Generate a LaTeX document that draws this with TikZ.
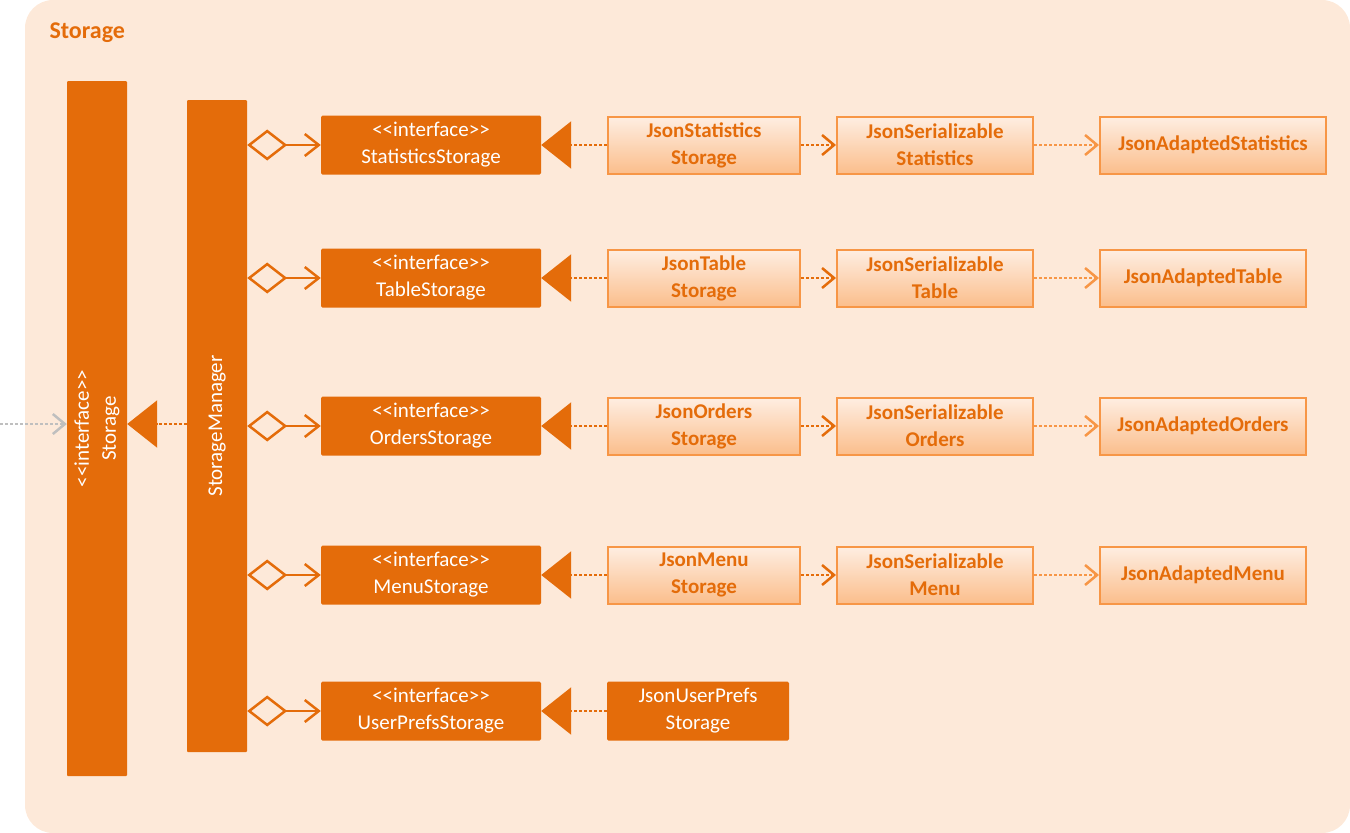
\documentclass[tikz,border=0pt]{standalone}
\usepackage{fontspec}
\setmainfont{Carlito}
\usetikzlibrary{positioning, arrows.meta}
\definecolor{bgpeach}{HTML}{FDE9D9}
\definecolor{darkorange}{HTML}{E46C0A}
\definecolor{lightorange}{HTML}{F79646}
\definecolor{gradtop}{HTML}{FEEEE2}
\definecolor{gradbot}{HTML}{FBBE8C}
\definecolor{linkgrey}{HTML}{BFBFBF}
\newcommand{\iface}{<{}<interface>{}>}

\tikzset{
  darkbox/.style={fill=darkorange, text=white, rounded corners=1.5pt, align=center,
    inner sep=0pt, minimum height=59pt, font=\fontsize{21}{27}\selectfont},
  lightbox/.style={draw=lightorange, line width=2pt, top color=gradtop, bottom color=gradbot,
    text=darkorange, align=center, inner sep=0pt, minimum height=57pt,
    font=\bfseries\fontsize{21}{27}\selectfont},
  bar/.style={fill=darkorange, text=white, rotate=90, align=center, inner sep=0pt,
    minimum height=60pt, rounded corners=1pt, font=\fontsize{21}{27}\selectfont},
  aggregates/.style={draw=darkorange, line width=2.5pt,
    {Diamond[open, length=40pt, width=31pt]}-{Straight Barb[length=14pt, width=22pt]}},
  realizes/.style={draw=darkorange, line width=2.5pt, dash pattern=on 3pt off 2pt,
    -{Triangle[length=30pt, width=47pt]}},
  uses/.style={line width=2.5pt, dash pattern=on 3pt off 2pt,
    -{Straight Barb[length=12pt, width=20pt]}},
}

\begin{document}
\begin{tikzpicture}[x=1pt, y=-1pt]
  \useasboundingbox (0,0) rectangle (1350,833);
  \fill[bgpeach, rounded corners=28pt] (25,0) rectangle (1350,833);

  \node[anchor=west, text=darkorange, font=\bfseries\fontsize{24}{28}\selectfont] (title) at (46,33) {Storage};

  % the two tall bars
  \node[bar, minimum width=695pt] (storage) at (97,428.5) {\iface\\Storage};
  \node[bar, minimum width=652pt] (manager) at (217,426) {StorageManager};

  % interfaces
  \node[darkbox, minimum width=220pt] (statIf) at (431,145) {\iface\\StatisticsStorage};
  \node[darkbox, minimum width=220pt] (tableIf) at (431,278) {\iface\\TableStorage};
  \node[darkbox, minimum width=220pt] (ordersIf) at (431,426) {\iface\\OrdersStorage};
  \node[darkbox, minimum width=220pt] (menuIf) at (431,575) {\iface\\MenuStorage};
  \node[darkbox, minimum width=220pt] (prefsIf) at (431,711) {\iface\\UserPrefsStorage};

  % json storages
  \node[lightbox, minimum width=192pt] (statJson) at (704,145) {JsonStatistics\\Storage};
  \node[lightbox, minimum width=192pt] (tableJson) at (704,278) {JsonTable\\Storage};
  \node[lightbox, minimum width=192pt] (ordersJson) at (704,426) {JsonOrders\\Storage};
  \node[lightbox, minimum width=192pt] (menuJson) at (704,575) {JsonMenu\\Storage};
  \node[darkbox, minimum width=182pt] (prefsJson) at (698,711) {JsonUserPrefs\\Storage};

  % serializables
  \node[lightbox, minimum width=196pt] (statSer) at (935,145) {JsonSerializable\\Statistics};
  \node[lightbox, minimum width=196pt] (tableSer) at (935,278) {JsonSerializable\\Table};
  \node[lightbox, minimum width=196pt] (ordersSer) at (935,426) {JsonSerializable\\Orders};
  \node[lightbox, minimum width=196pt] (menuSer) at (935,575) {JsonSerializable\\Menu};

  % adapted
  \node[lightbox, minimum width=226pt] (statAdapt) at (1213,145) {JsonAdaptedStatistics};
  \node[lightbox, minimum width=206pt] (tableAdapt) at (1203,278) {JsonAdaptedTable};
  \node[lightbox, minimum width=206pt] (ordersAdapt) at (1203,426) {JsonAdaptedOrders};
  \node[lightbox, minimum width=206pt] (menuAdapt) at (1203,575) {JsonAdaptedMenu};

  % storage links
  \coordinate (client) at (0,424);
  \draw[uses, linkgrey] (client) -- (storage.north |- client);
  \draw[realizes] (manager.north |- client) -- (storage.south |- client);

  \draw[aggregates] (manager.south |- statIf) -- (statIf.west);
  \draw[aggregates] (manager.south |- tableIf) -- (tableIf.west);
  \draw[aggregates] (manager.south |- ordersIf) -- (ordersIf.west);
  \draw[aggregates] (manager.south |- menuIf) -- (menuIf.west);
  \draw[aggregates] (manager.south |- prefsIf) -- (prefsIf.west);

  \draw[realizes] (statJson.west) -- (statIf.east);
  \draw[realizes] (tableJson.west) -- (tableIf.east);
  \draw[realizes] (ordersJson.west) -- (ordersIf.east);
  \draw[realizes] (menuJson.west) -- (menuIf.east);
  \draw[realizes] (prefsJson.west) -- (prefsIf.east);

  \draw[uses, darkorange] (statJson.east) -- (statSer.west);
  \draw[uses, darkorange] (tableJson.east) -- (tableSer.west);
  \draw[uses, darkorange] (ordersJson.east) -- (ordersSer.west);
  \draw[uses, darkorange] (menuJson.east) -- (menuSer.west);

  \draw[uses, lightorange] (statSer.east) -- (statAdapt.west);
  \draw[uses, lightorange] (tableSer.east) -- (tableAdapt.west);
  \draw[uses, lightorange] (ordersSer.east) -- (ordersAdapt.west);
  \draw[uses, lightorange] (menuSer.east) -- (menuAdapt.west);
\end{tikzpicture}
\end{document}
